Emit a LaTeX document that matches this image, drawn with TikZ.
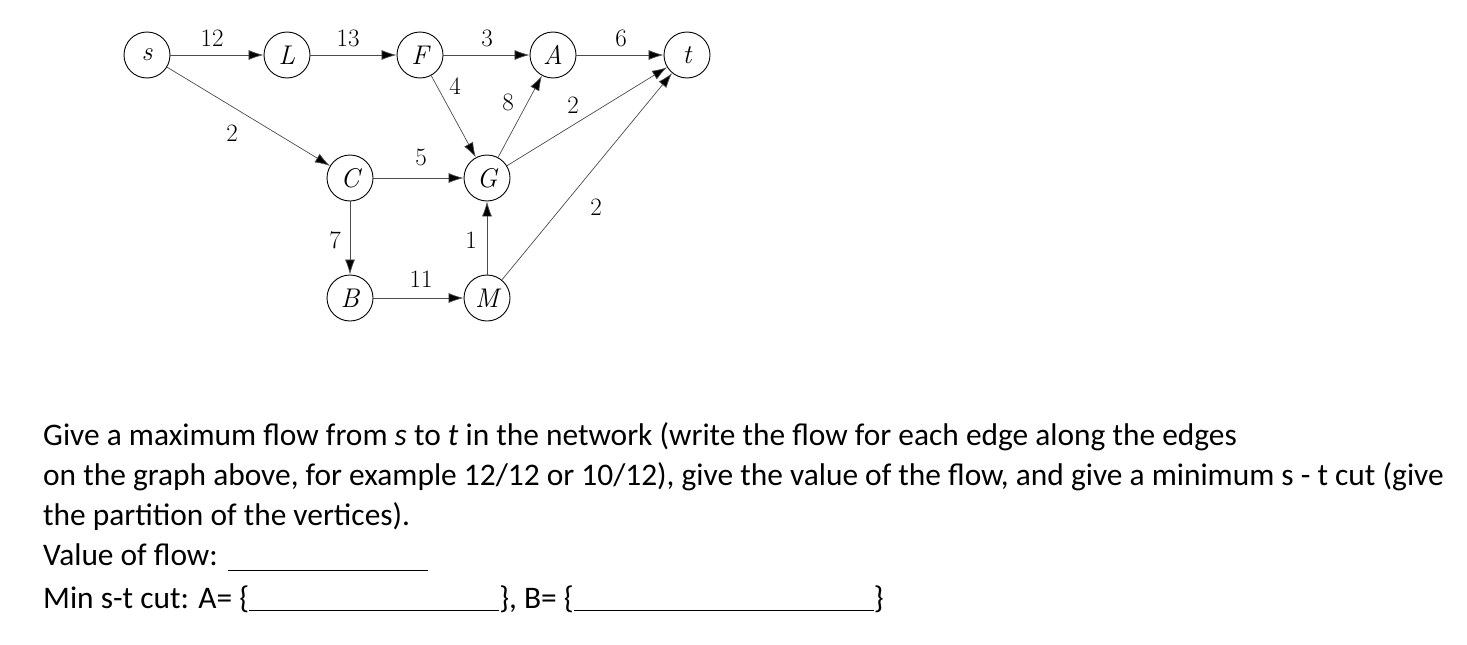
\documentclass[tikz,border=0pt]{standalone}
\usepackage{fontspec}
\newfontfamily\body{Carlito}
\usetikzlibrary{arrows.meta}
\begin{document}
\begin{tikzpicture}[x=1pt,y=-1pt,
  vx/.style={draw,circle,minimum size=46pt,inner sep=0pt,line width=0.9pt,font=\fontsize{27}{29}\selectfont\itshape},
  ed/.style={draw=black!70,line width=0.7pt,-{Latex[length=15pt,width=10pt,fill=black]}},
  lb/.style={font=\fontsize{25}{27}\selectfont,inner sep=0pt},
  tx/.style={font=\body\fontsize{31.4}{34}\selectfont,anchor=base west,inner sep=0pt}]
\useasboundingbox (0,0) rectangle (1467,645);
\node[vx] (s) at (147,55) {s};
\node[vx] (L) at (287,55) {L};
\node[vx] (F) at (420,55) {F};
\node[vx] (A) at (553,55) {A};
\node[vx] (t) at (687,55) {t};
\node[vx] (C) at (350,178) {C};
\node[vx] (G) at (487,178) {G};
\node[vx] (B) at (350,298) {B};
\node[vx] (M) at (487,298) {M};
\draw[ed] (s) -- (L);
\draw[ed] (L) -- (F);
\draw[ed] (F) -- (A);
\draw[ed] (A) -- (t);
\draw[ed] (s) -- (C);
\draw[ed] (F) -- (G);
\draw[ed] (G) -- (A);
\draw[ed] (G) -- (t);
\draw[ed] (C) -- (G);
\draw[ed] (C) -- (B);
\draw[ed] (B) -- (M);
\draw[ed] (M) -- (G);
\draw[ed] (M) -- (t);
\node[lb] (l1) at (212,38) {12};
\node[lb] (l2) at (348,38) {13};
\node[lb] (l3) at (487,38) {3};
\node[lb] (l4) at (621,38) {6};
\node[lb] (l5) at (455,86) {4};
\node[lb] (l6) at (508,102) {8};
\node[lb] (l7) at (573,105) {2};
\node[lb] (l8) at (232,133) {2};
\node[lb] (l9) at (421,157) {5};
\node[lb] (l10) at (596,207) {2};
\node[lb] (l11) at (335,240) {7};
\node[lb] (l12) at (471,240) {1};
\node[lb] (l13) at (421,279) {11};
\node[tx] (p1) at (43,445) {Give a maximum flow from \textit{s} to \textit{t} in the network (write the flow for each edge along the edges};
\node[tx] (p2) at (43,485) {on the graph above, for example 12/12 or 10/12), give the value of the flow, and give a minimum s - t cut (give};
\node[tx] (p3) at (43,525) {the partition of the vertices).};
\node[tx] (p4) at (43,565) {Value of flow:};
\node[tx] (p5) at (43,608) {Min s-t cut: A= \{\rule[-3pt]{250pt}{1pt}\}, B= \{\rule[-3pt]{300pt}{1pt}\}};
\draw[line width=1pt] (228,570) -- (428,570);
\end{tikzpicture}
\end{document}
